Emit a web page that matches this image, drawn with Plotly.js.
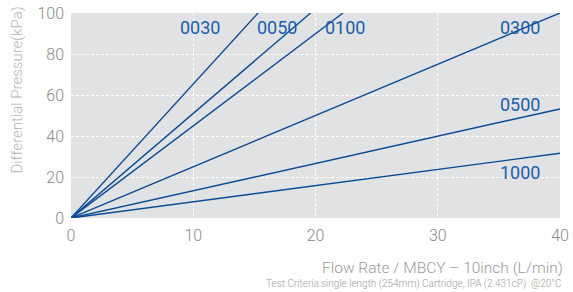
<!DOCTYPE html>
<html>
<head>
<meta charset="utf-8">
<script src="https://cdn.plot.ly/plotly-3.0.1.min.js"></script>
<style>html,body{margin:0;padding:0;background:#fff;}#chart{width:573px;height:292px;}</style>
</head>
<body>
<div id="chart"></div>
<script>
// Series: lines starting at origin, given by end point [flow, pressure]
const seriesNames = ["0030", "0050", "0100", "0300", "0500", "1000"];
const flowEnd = [15.3, 19.6, 22.25, 40, 40, 40];
const pressureEnd = [100, 100, 100, 100, 53.2, 31.6];
const labelX = [10.55, 16.85, 22.4, 36.7, 36.7, 36.7];
const labelY = [93, 93, 93, 93, 55.6, 22.4];
const xTicks = [0, 10, 20, 30, 40];
const yTicks = [0, 20, 40, 60, 80, 100];

const lineColor = "#0b4a93";
const labelColor = "#1a5eab";
const fontFam = "Roboto, 'Liberation Sans', Arial, sans-serif";

const traces = seriesNames.map((n, i) => ({
  x: [0, flowEnd[i]], y: [0, pressureEnd[i]],
  mode: "lines", type: "scatter", name: n,
  line: {color: lineColor, width: 1.4},
  hoverinfo: "skip"
}));

const annotations = seriesNames.map((n, i) => ({
  x: labelX[i], y: labelY[i], xref: "x", yref: "y", text: n,
  showarrow: false, font: {family: fontFam, size: 18, color: labelColor, weight: 400}
}));
annotations.push({
  xref: "paper", yref: "paper", x: 1.0102, y: -0.244, xanchor: "right", yanchor: "middle",
  text: "Flow Rate / MBCY – 10inch (L/min)", showarrow: false,
  font: {family: fontFam, size: 15.5, color: "#9a9a9a", weight: 300}
});
annotations.push({
  xref: "paper", yref: "paper", x: 1.008, y: -0.322, xanchor: "right", yanchor: "middle",
  text: "Test Criteria:single length (254mm) Cartridge, IPA (2.431cP)  @20°C", showarrow: false,
  font: {family: fontFam, size: 10, color: "#a0a0a0", weight: 300}
});
annotations.push({
  xref: "paper", yref: "paper", x: -0.111, y: 0.625, xanchor: "center", yanchor: "middle",
  text: "Differential Pressure(kPa)", showarrow: false, textangle: -90,
  font: {family: fontFam, size: 15, color: "#b4b4b4", weight: 300}
});

const layout = {
  width: 573, height: 292,
  margin: {l: 71, r: 13, t: 13, b: 74},
  paper_bgcolor: "#fff", plot_bgcolor: "#e1e2e4",
  showlegend: false,
  font: {family: fontFam, color: "#888"},
  xaxis: {
    range: [0, 40], tickvals: xTicks, ticktext: xTicks.map(String),
    showgrid: true, gridcolor: "#fff", griddash: "3px,2px", gridwidth: 1,
    zeroline: false, showline: false, ticks: "", ticklabelstandoff: 6,
    tickfont: {family: fontFam, size: 16, color: "#8a8a8a", weight: 300}, fixedrange: true
  },
  yaxis: {
    range: [0, 100], tickvals: yTicks, ticktext: yTicks.map(String),
    showgrid: true, gridcolor: "#fff", griddash: "3px,2px", gridwidth: 1,
    zeroline: false, showline: false, ticks: "", ticklabelstandoff: 6,
    tickfont: {family: fontFam, size: 16, color: "#8a8a8a", weight: 300},
    fixedrange: true
  },
  annotations: annotations
};

Plotly.newPlot("chart", traces, layout, {staticPlot: true, displayModeBar: false});
</script>
</body>
</html>
